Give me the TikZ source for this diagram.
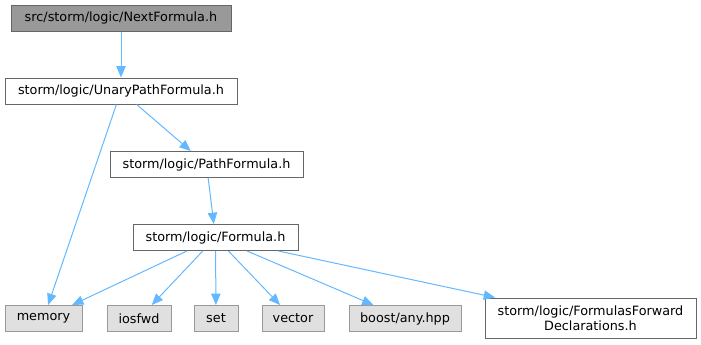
\documentclass[tikz,border=0pt]{standalone}
\usepackage{fontspec}
\setmainfont{DejaVu Sans}
\usepackage{tikz}
\usetikzlibrary{arrows.meta}
\usetikzlibrary{positioning}
\definecolor{EdgeBlue}{HTML}{63B8FF}
\definecolor{BoxLine}{HTML}{666666}
\definecolor{ExtLine}{HTML}{999999}
\definecolor{ExtFill}{HTML}{E0E0E0}
\definecolor{RootFill}{HTML}{999999}

\tikzset{
  file/.style={draw=BoxLine, fill=white, line width=0.75pt, minimum height=19.5pt,
    inner sep=0pt, align=center, font=\fontsize{9.6}{11}\selectfont},
  rootfile/.style={file, fill=RootFill},
  extfile/.style={file, draw=ExtLine, fill=ExtFill},
  incl/.style={draw=EdgeBlue, line width=0.75pt,
    -{Triangle[length=8.5pt,width=7pt]}}
}

\begin{document}
\begin{tikzpicture}[x=0.75pt, y=-0.75pt]
    \useasboundingbox (0,0) rectangle (701,344);
    % Headers
    \node[rootfile, minimum width=165pt] (next) at (121,18) {src/storm/logic/NextFormula.h};
    \node[file, minimum width=174pt] (unary) at (121,91) {storm/logic/UnaryPathFormula.h};
    \node[file, minimum width=144.75pt] (path) at (206.5,164.5) {storm/logic/PathFormula.h};
    \node[file, minimum width=123.75pt] (formula) at (215.5,237.5) {storm/logic/Formula.h};
    \node[file, minimum width=158.25pt, minimum height=30pt] (fwd) at (590.5,318)
    {storm/logic/FormulasForward\\Declarations.h};
    % System includes
    \node[extfile, minimum width=57.75pt] (memory) at (43.5,318.5) {memory};
    \node[extfile, minimum width=48pt] (iosfwd) at (139,318.5) {iosfwd};
    \node[extfile, minimum width=33pt] (set) at (216,318.5) {set};
    \node[extfile, minimum width=46.5pt] (vector) at (293,318.5) {vector};
    \node[extfile, minimum width=84pt] (any) at (405,318.5) {boost/any.hpp};
    % Includes
    \draw[incl] (next) -- (unary);
    \draw[incl] (unary) -- (memory);
    \draw[incl] (unary) -- (path);
    \draw[incl] (path) -- (formula);
    \foreach \dst in {memory, iosfwd, set, vector, any, fwd}
      \draw[incl] (formula) -- (\dst);
\end{tikzpicture}
\end{document}
